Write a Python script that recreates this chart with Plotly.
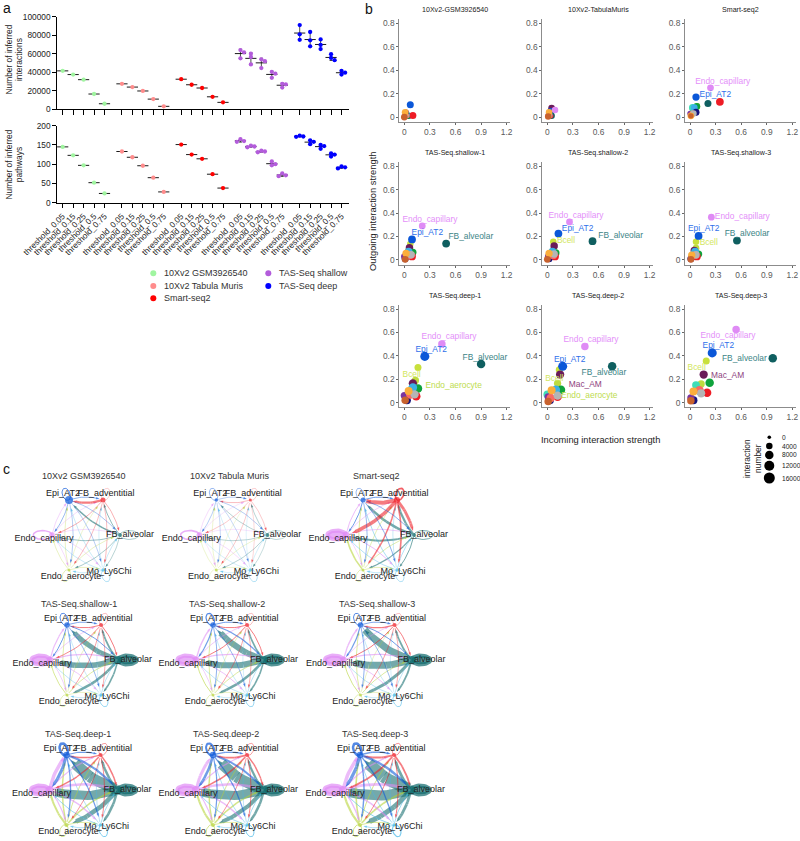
import numpy as np
import plotly.graph_objects as go

W, H = 800, 841
FONT = "Liberation Sans"

# ---------- panel a data ----------
THRESHOLDS = ["threshold_0.05", "threshold_0.15", "threshold_0.25", "threshold_0.5", "threshold_0.75"]
GROUPS = ["10Xv2 GSM3926540", "10Xv2 Tabula Muris", "Smart-seq2", "TAS-Seq shallow", "TAS-Seq deep"]
GROUP_COLORS = ["#A0F5A0", "#FF8C8C", "#FF0000", "#B35CDB", "#0000FF"]

INTER_GSM = [[41500], [37500], [32000], [16500], [6000]]
INTER_TAB = [[27500], [24000], [19800], [11000], [3200]]
INTER_SMART = [[32500], [26500], [23000], [13500], [7500]]
INTER_SHALLOW = [[64000, 61500, 55000], [60000, 56500, 48500], [54000, 52000, 44500], [40500, 38500, 34000], [27500, 27000, 23500]]
INTER_DEEP = [[91000, 81000, 75000], [83500, 74500, 68000], [75500, 69500, 65000], [59500, 55500, 53000], [41500, 39500, 37500]]

PATH_GSM = [[145], [123], [97], [52], [24]]
PATH_TAB = [[133], [118], [96], [65], [28]]
PATH_SMART = [[151], [125], [114], [74], [38]]
PATH_SHALLOW = [[165, 160, 158], [148, 146, 144], [135, 133, 131], [107, 100, 97], [76, 71, 69]]
PATH_DEEP = [[174, 172, 171], [162, 158, 152], [150, 147, 140], [128, 125, 120], [94, 92, 89]]

# ---------- panel b data ----------
CELL_NAMES = ["Endo_aerocyte", "Bcell", "Mac_AM", "Epi_AT2", "Endo_capillary", "FB_alveolar", "Tcell", "FB_adventitial",
              "Endo_lymph", "Mo_Ly6Chi", "NK", "DC", "Mac_IM", "Neutrophil", "Pericyte", "Mesothelial"]
CELL_COLORS = ["#BEDB3E", "#C8E03C", "#6A1B5A", "#0B57D8", "#DF8BF5", "#0F5F60", "#0FA33C", "#EE1C25",
               "#3FDDB8", "#3BB0E6", "#14147E", "#7A35A0", "#FB6A62", "#B5B5B5", "#FBAE3C", "#C8622E"]

GSM_X = [.01, .01, .02, .07, .02, .05, .04, .10, .02, .03, .02, .01, .03, .02, .01, .00]
GSM_Y = [.01, .02, .04, .105, .03, .01, .01, .012, .01, .02, .03, .02, .01, .01, .04, .00]
GSM_N = [1500, 1500, 3000, 5000, 3000, 4000, 3000, 5000, 2000, 3000, 2500, 2000, 2500, 2500, 4500, 4500]
TABMUR_X = [.02, .02, .05, .04, .09, .05, .03, .04, .02, .03, .02, .01, .03, .02, .02, .01]
TABMUR_Y = [.02, .03, .075, .05, .06, .01, .02, .01, .01, .02, .02, .02, .01, .01, .04, .005]
TABMUR_N = [1500, 1500, 4500, 4000, 4000, 4000, 2500, 2500, 2000, 2500, 2000, 2000, 2500, 2500, 4000, 4000]
SMART_X = [.03, .08, .06, .07, .24, .21, .08, .35, .03, .05, .07, .00, .03, .04, .01, .01]
SMART_Y = [.07, .09, .04, .17, .25, .115, .09, .13, .08, .08, .04, .03, .03, .03, .01, .01]
SMART_N = [3500, 4500, 4500, 5500, 4500, 5000, 4500, 6500, 5500, 4500, 5000, 2500, 3500, 4000, 4500, 2500]
SH1_X = [.05, .07, .06, .09, .21, .49, .10, .09, .04, .05, .01, .00, .06, .08, .02, .01]
SH1_Y = [.08, .135, .105, .175, .29, .14, .065, .03, .06, .07, .01, .03, .04, .045, .055, .005]
SH2_X = [.07, .07, .08, .13, .26, .53, .10, .09, .05, .06, .02, .01, .07, .08, .02, .00]
SH2_Y = [.08, .155, .12, .225, .325, .16, .06, .03, .06, .07, .01, .03, .04, .05, .055, .005]
SH3_X = [.07, .07, .05, .10, .25, .55, .10, .08, .05, .06, .01, .02, .06, .07, .02, .01]
SH3_Y = [.10, .155, .08, .205, .365, .165, .05, .03, .055, .07, .01, .03, .04, .045, .04, .005]
SHALLOW_N = [4500, 4000, 6000, 6500, 4500, 6500, 5500, 6500, 5500, 6500, 5000, 4000, 6500, 6000, 5500, 4500]
DP1_X = [.13, .16, .10, .24, .44, .90, .16, .14, .09, .10, .03, .00, .07, .12, .05, .01]
DP1_Y = [.19, .30, .165, .395, .50, .33, .12, .055, .12, .13, .02, .06, .07, .07, .10, .02]
DP2_X = [.12, .14, .15, .18, .44, .76, .16, .12, .00, .10, .03, .01, .04, .12, .05, .01]
DP2_Y = [.165, .28, .24, .31, .48, .31, .11, .05, .07, .11, .02, .05, .04, .06, .105, .01]
DP3_X = [.13, .19, .16, .26, .54, .97, .23, .20, .07, .11, .04, .01, .11, .13, .04, .01]
DP3_Y = [.16, .355, .24, .425, .625, .38, .17, .085, .15, .10, .02, .04, .105, .08, .095, .015]
DEEP_N = [5500, 5000, 7500, 9500, 6000, 8000, 8000, 8000, 6500, 8000, 7000, 5500, 8000, 7500, 7000, 6000]

SIZE_BREAKS = [0, 4000, 8000, 12000, 16000]
SIZE_DIAMS = [3.6, 6.5, 8.5, 10, 11]

SM_LABELS = [("Endo_capillary", .383, .30), ("Epi_AT2", .297, .19)]
SH1_LABELS = [("Endo_capillary", .30, .342), ("Epi_AT2", .27, .228), ("FB_alveolar", .78, .20)]
SH2_LABELS = [("Endo_capillary", .336, .379), ("Epi_AT2", .355, .268), ("FB_alveolar", .86, .208), ("Bcell", .219, .165)]
SH3_LABELS = [("Endo_capillary", .613, .37), ("Epi_AT2", .16, .262), ("FB_alveolar", .668, .222), ("Bcell", .219, .148)]
DP1_LABELS = [("Endo_capillary", .524, .558), ("Epi_AT2", .316, .453), ("FB_alveolar", .945, .385), ("Bcell", .086, .239), ("Endo_aerocyte", .578, .14)]
DP2_LABELS = [("Endo_capillary", .512, .536), ("Epi_AT2", .262, .368), ("FB_alveolar", .664, .256), ("Bcell", .082, .205), ("Mac_AM", .445, .154), ("Endo_aerocyte", .492, .054)]
DP3_LABELS = [("Endo_capillary", .445, .57), ("Epi_AT2", .332, .481), ("FB_alveolar", .637, .373), ("Bcell", .078, .296), ("Mac_AM", .441, .225)]
LABEL_COLORS = {"Endo_capillary": "#E48FF9", "Epi_AT2": "#2F70EA", "FB_alveolar": "#3C8486", "Bcell": "#D2E65E", "Endo_aerocyte": "#BEDC50", "Mac_AM": "#8E3F7E"}

SCATTER_PANELS = [
    ("10Xv2-GSM3926540", GSM_X, GSM_Y, GSM_N, []),
    ("10Xv2-TabulaMuris", TABMUR_X, TABMUR_Y, TABMUR_N, []),
    ("Smart-seq2", SMART_X, SMART_Y, SMART_N, SM_LABELS),
    ("TAS-Seq.shallow-1", SH1_X, SH1_Y, SHALLOW_N, SH1_LABELS),
    ("TAS-Seq.shallow-2", SH2_X, SH2_Y, SHALLOW_N, SH2_LABELS),
    ("TAS-Seq.shallow-3", SH3_X, SH3_Y, SHALLOW_N, SH3_LABELS),
    ("TAS-Seq.deep-1", DP1_X, DP1_Y, DEEP_N, DP1_LABELS),
    ("TAS-Seq.deep-2", DP2_X, DP2_Y, DEEP_N, DP2_LABELS),
    ("TAS-Seq.deep-3", DP3_X, DP3_Y, DEEP_N, DP3_LABELS),
]

# ---------- panel c data ----------
NET_NODES = ["Epi_AT2", "FB_adventitial", "FB_alveolar", "Mo_Ly6Chi", "Endo_aerocyte", "Endo_capillary"]
NET_COLORS = ["#0B57D8", "#EE1C25", "#0F6A6C", "#45B8E8", "#B5D334", "#DF8BF5"]
NET_TITLES = ["10Xv2 GSM3926540", "10Xv2 Tabula Muris", "Smart-seq2",
              "TAS-Seq.shallow-1", "TAS-Seq.shallow-2", "TAS-Seq.shallow-3",
              "TAS-Seq.deep-1", "TAS-Seq.deep-2", "TAS-Seq.deep-3"]
W_GSM = [[1.0, .8, .6, .5, .5, .7], [2.2, .3, .6, .5, .5, .6], [1.4, .8, .5, .5, .6, .7], [.5, .4, .5, .6, .5, .5], [.5, .4, .5, .5, .5, .5], [.6, .5, .5, .5, .5, 1.5]]
W_TAB = [[.6, .5, .5, .4, .4, .5], [.5, .3, .4, .3, .4, .4], [.5, .5, .4, .4, .5, .5], [.4, .3, .4, .6, .4, .4], [.4, .3, .4, .4, .3, .4], [.5, .4, .4, .5, .4, 1.6]]
W_SMART = [[.6, 1.0, .8, .8, .7, 1.0], [4.0, 1.6, 2.8, 1.6, 1.5, 3.5], [2.5, 2.2, .8, 1.0, 1.2, 2.0], [.8, .5, .7, .6, .6, .7], [.8, .6, .7, .6, .5, 1.6], [1.0, .7, .8, 1.0, .6, 5.0]]
W_SH1 = [[1.0, .9, 1.0, .7, .8, 1.0], [1.0, .4, 1.0, .6, .7, .9], [5.0, 1.8, 7.0, 1.6, 2.5, 5.5], [.5, .4, .6, .8, .5, .6], [.7, .5, .8, .5, .5, .9], [1.2, .7, 1.2, .8, .7, 7.0]]
W_SH2 = [[1.2, 1.0, 1.2, .7, .8, 1.2], [1.0, .4, 1.0, .6, .7, 1.0], [6.0, 1.6, 7.0, 1.6, 2.5, 6.0], [.5, .4, .6, .8, .5, .6], [.8, .5, .8, .5, .5, 1.0], [1.4, .8, 1.3, .9, .7, 7.5]]
W_SH3 = [[1.0, .9, 1.0, .7, .8, 1.2], [1.2, .4, 1.0, .6, .7, 1.0], [7.0, 1.8, 7.5, 1.8, 3.0, 7.0], [.5, .4, .6, .8, .5, .6], [.8, .5, .8, .5, .5, 1.0], [1.4, .7, 1.3, .9, .7, 8.0]]
W_DP1 = [[2.5, 1.2, 2.2, 1.2, 1.3, 3.0], [1.4, .6, 1.5, .9, .8, 1.4], [11, 2.5, 10, 2.5, 4.5, 9.0], [.7, .6, .8, 1.0, .7, .9], [1.4, .9, 1.5, .8, .8, 2.0], [3.5, 1.2, 2.5, 1.4, 1.2, 9.0]]
W_DP2 = [[2.0, 1.3, 2.0, 1.2, 1.2, 2.6], [1.8, .6, 1.4, .9, .8, 1.6], [11, 2.2, 9.0, 2.5, 4.0, 9.0], [.7, .6, .8, 1.0, .7, .9], [1.4, .9, 1.5, .8, .8, 2.0], [3.0, 1.2, 2.5, 1.4, 1.2, 9.0]]
W_DP3 = [[2.5, 1.5, 2.4, 1.3, 1.4, 3.2], [2.0, .7, 1.8, 1.0, .9, 1.8], [12, 2.8, 10, 2.8, 5.0, 10], [.8, .7, .9, 1.2, .8, 1.0], [1.6, 1.0, 1.7, .9, .9, 2.2], [3.5, 1.4, 2.8, 1.6, 1.4, 9.5]]
NET_WEIGHTS = [W_GSM, W_TAB, W_SMART, W_SH1, W_SH2, W_SH3, W_DP1, W_DP2, W_DP3]
NODE_GSM = [8, 5, 4, 3.5, 3, 5.5]
NODE_TAB = [3.5, 3, 4, 3.5, 3, 5.5]
NODE_SMART = [5, 6, 4, 3.5, 3, 6.5]
NODE_SH = [5.5, 4, 8, 3.5, 3, 6.5]
NODE_DP = [6.5, 4, 9, 3.5, 4, 8]
NET_NODE_SIZES = [NODE_GSM, NODE_TAB, NODE_SMART, NODE_SH, NODE_SH, NODE_SH, NODE_DP, NODE_DP, NODE_DP]
SOURCE_ORDER = [2, 4, 3, 5, 1, 0]

# ---------- layout constants (pixels) ----------
def dx(a, b):
    return [max(0, a / W), min(1, b / W)]

def dy(top, bottom):
    return [max(0, 1 - bottom / H), min(1, 1 - top / H)]

fig = go.Figure()
layout = {}
annotations = []

def note(text, px, py, size, color="#222222", angle=0, xanchor="center"):
    annotations.append(dict(text=text, x=px / W, y=1 - py / H, xref="paper", yref="paper", showarrow=False,
                            font=dict(family=FONT, size=size, color=color), textangle=angle,
                            xanchor=xanchor, yanchor="middle"))

# ---------- panel a ----------
STEP = 10.45
X0_PX = 62.7
GROUP_GAP = 5.67
XR = [(56.7 - X0_PX) / STEP, (349 - X0_PX) / STEP]
tick_pos = [g * GROUP_GAP + i for g in range(5) for i in range(5)]
tick_txt = THRESHOLDS * 5

def swarm(vals, px_per_unit):
    offs, placed = [], []
    for v in vals:
        o = 0.0
        for c in (0, .34, -.34, .6, -.6):
            if all(abs(c - po) * STEP > 3 or abs(v - pv) * px_per_unit > 3 for po, pv in placed):
                o = c
                break
        placed.append((o, v))
        offs.append(o)
    return offs

def panel_a(data, xa, ya, ppu):
    for g, series in enumerate(data):
        xs, ys, mx, my, sd = [], [], [], [], []
        for i, vals in enumerate(series):
            base = g * GROUP_GAP + i
            offs = swarm(vals, ppu)
            xs += [base + o for o in offs]
            ys += vals
            mx.append(base)
            my.append(float(np.mean(vals)))
            sd.append(float(np.std(vals, ddof=1)) if len(vals) > 1 else 0)
        fig.add_trace(go.Scatter(x=mx, y=my, mode="markers", xaxis=xa, yaxis=ya, showlegend=False,
                                 marker=dict(symbol="line-ew", size=8, color="black", line=dict(width=0.9, color="black")),
                                 error_y=dict(type="data", array=sd, visible=True, color="black", thickness=0.7,
                                              width=1.5 if g >= 3 else 0)))
        fig.add_trace(go.Scatter(x=xs, y=ys, mode="markers", xaxis=xa, yaxis=ya, showlegend=False,
                                 marker=dict(color=GROUP_COLORS[g], size=4.3, line=dict(width=0))))

panel_a([INTER_GSM, INTER_TAB, INTER_SMART, INTER_SHALLOW, INTER_DEEP], "x", "y", 92.6 / 100000)
panel_a([PATH_GSM, PATH_TAB, PATH_SMART, PATH_SHALLOW, PATH_DEEP], "x2", "y2", 77 / 200)

tickf = dict(family=FONT, size=8.3, color="#222222")
axa = dict(range=XR, showgrid=False, zeroline=False, showline=True, linecolor="black", linewidth=1, automargin=False,
           ticks="outside", ticklen=4.5, tickwidth=1, tickcolor="black", tickvals=tick_pos, fixedrange=True)
layout["xaxis"] = dict(axa, domain=dx(56.7, 349), anchor="y", ticktext=[""] * 25)
layout["yaxis"] = dict(domain=dy(16.7, 109.3), anchor="x", range=[0, 100000], tickvals=[0, 20000, 40000, 60000, 80000, 100000],
                       tickformat="d", showgrid=False, zeroline=False, showline=True, linecolor="black", linewidth=1, automargin=False,
                       ticks="outside", ticklen=3.5, tickwidth=1, tickcolor="black", tickfont=tickf, fixedrange=True)
layout["xaxis2"] = dict(axa, domain=dx(56.7, 349), anchor="y2", ticktext=tick_txt, tickangle=-45, tickfont=tickf)
layout["yaxis2"] = dict(domain=dy(125.7, 202.7), anchor="x2", range=[0, 200], tickvals=[0, 50, 100, 150, 200], automargin=False,
                        showgrid=False, zeroline=False, showline=True, linecolor="black", linewidth=1,
                        ticks="outside", ticklen=3.5, tickwidth=1, tickcolor="black", tickfont=tickf, fixedrange=True)
note("Number of inferred<br>interactions", 13.5, 60, 8.4, angle=-90)
note("Number of inferred<br>pathways", 13.5, 165, 8.4, angle=-90)

# key overlay axes (legends)
layout["xaxis3"] = dict(domain=[0, 1], range=[0, W], visible=False, fixedrange=True, anchor="y3", automargin=False)
layout["yaxis3"] = dict(domain=[0, 1], range=[H, 0], visible=False, fixedrange=True, anchor="x3", automargin=False)
KEY_POS = [(153.3, 273.3), (153.3, 286), (153.3, 298.3), (268.3, 273.3), (268.3, 286)]
for name, col, (kx, ky) in zip(GROUPS, GROUP_COLORS, KEY_POS):
    fig.add_trace(go.Scatter(x=[kx], y=[ky], mode="markers", xaxis="x3", yaxis="y3", showlegend=False,
                             marker=dict(color=col, size=6, line=dict(width=0))))
    note(name, kx + 9, ky, 9, color="#333333", xanchor="left")

# ---------- panel b ----------
COLS_B = [399.3, 542.3, 685]
ROWS_B = [121.7, 264.6, 407.3]
B_TICKF = dict(family=FONT, size=8.4, color="#5A5A5A")
for k, (title, xs, ys, ns, labels) in enumerate(SCATTER_PANELS):
    r, c = divmod(k, 3)
    ax = k + 4
    left, bottom = COLS_B[c], ROWS_B[r]
    layout[f"xaxis{ax}"] = dict(domain=dx(left, left + 110.7), anchor=f"y{ax}", range=[-0.059, 1.239], automargin=False,
                                tickvals=[0, .3, .6, .9, 1.2], ticktext=["0", "0.3", "0.6", "0.9", "1.2"],
                                showgrid=False, zeroline=False, showline=True, linecolor="#8C8C8C", linewidth=1,
                                ticks="outside", ticklen=2, tickwidth=.8, tickcolor="#666666", tickfont=B_TICKF, fixedrange=True)
    layout[f"yaxis{ax}"] = dict(domain=dy(bottom - 102.4, bottom), anchor=f"x{ax}", range=[-0.04, 0.835], automargin=False,
                                tickvals=[0, .2, .4, .6, .8], ticktext=["0", "0.2", "0.4", "0.6", "0.8"],
                                showgrid=False, zeroline=False, showline=True, linecolor="#8C8C8C", linewidth=1,
                                ticks="outside", ticklen=2, tickwidth=.8, tickcolor="#666666", tickfont=B_TICKF, fixedrange=True)
    sizes = np.interp(ns, SIZE_BREAKS, SIZE_DIAMS)
    fig.add_trace(go.Scatter(x=xs, y=ys, mode="markers", xaxis=f"x{ax}", yaxis=f"y{ax}", showlegend=False, text=CELL_NAMES,
                             cliponaxis=False, marker=dict(color=CELL_COLORS, size=sizes, opacity=1, line=dict(width=0))))
    for name, lx, ly in labels:
        fig.add_trace(go.Scatter(x=[lx], y=[ly], mode="text", text=[name], xaxis=f"x{ax}", yaxis=f"y{ax}", showlegend=False,
                                 textposition="middle center", cliponaxis=False,
                                 textfont=dict(family=FONT, size=8.4, color=LABEL_COLORS[name])))
    note(title, left + 55.7, bottom - 111.2, 7.1, color="#222222")

note("Outgoing interaction strength", 373, 212, 9.3, color="#222222", angle=-90)
note("Incoming interaction strength", 600, 440, 9.3, color="#222222")

SIZE_KEY_Y = [437.3, 446, 455, 465.7, 478]
SIZE_KEY_D = [3.6, 6.5, 8.5, 10, 11]
for val, ky, d in zip(SIZE_BREAKS, SIZE_KEY_Y, SIZE_KEY_D):
    fig.add_trace(go.Scatter(x=[769.3], y=[ky], mode="markers", xaxis="x3", yaxis="y3", showlegend=False,
                             marker=dict(color="black", size=d, line=dict(width=0))))
    note(str(val), 780.3, ky, 6.6, xanchor="left")
note("interaction<br>number", 752, 459, 8.4, angle=-90)

# ---------- panel c ----------
RX, RY = 34.0, 40.5
ANGLES = np.radians([120, 60, 0, -60, -120, 180])
UX, UY = np.cos(ANGLES), np.sin(ANGLES)
LABEL_OFF = [(-6, -6), (3, -6), (10, 0), (6, 2), (2, 7), (-8, 3.5)]  # pixel offsets of names from nodes
NET_CX = [[86, 233.3, 380], [84, 230, 377.5], [83.5, 230, 377]]
NET_CY = [535, 660, 790]
NET_TITLE_X = [[84, 230, 376], [78.5, 227, 376.7], [78, 226, 375]]
NET_TITLE_Y = [476, 604, 734]
HW, HH = 66, 50

def rgba(hexc, a):
    return f"rgba({int(hexc[1:3],16)},{int(hexc[3:5],16)},{int(hexc[5:7],16)},{a})"

for k, (weights, nsz) in enumerate(zip(NET_WEIGHTS, NET_NODE_SIZES)):
    r, c = divmod(k, 3)
    ax = k + 13
    cx, cy = NET_CX[r][c], NET_CY[r]
    layout[f"xaxis{ax}"] = dict(domain=dx(cx - HW, cx + HW), range=[-HW / RX, HW / RX], visible=False, fixedrange=True, anchor=f"y{ax}", automargin=False)
    layout[f"yaxis{ax}"] = dict(domain=dy(cy - HH, cy + HH), range=[-HH / RY, HH / RY], visible=False, fixedrange=True, anchor=f"x{ax}", automargin=False)
    for i in SOURCE_ORDER:
        for j in range(6):
            w = weights[i][j]
            col = NET_COLORS[i]
            if i == j:
                out = np.array([UX[i], UY[i]])
                perp = np.array([-out[1], out[0]])
                th = np.linspace(0, 2 * np.pi, 33)
                a = .55 if i in (2, 5) else .32
                b = .22
                px = UX[i] + out[0] * a * (1 - np.cos(th)) / 2 + perp[0] * b * np.sin(th) / 2
                py = UY[i] + out[1] * a * (1 - np.cos(th)) / 2 + perp[1] * b * np.sin(th) / 2
                fig.add_trace(go.Scatter(x=px, y=py, mode="lines", xaxis=f"x{ax}", yaxis=f"y{ax}", showlegend=False, cliponaxis=False,
                                         line=dict(color=rgba(col, .7), width=min(w, 4)),
                                         fill="toself" if w >= 4 else None,
                                         fillcolor=rgba(col, .7) if w >= 4 else None))
                continue
            A = np.array([UX[i], UY[i]])
            B = np.array([UX[j], UY[j]])
            d = B - A
            ctrl = (A + B) / 2 + 0.14 * np.array([-d[1], d[0]])
            t = np.linspace(0.04, 0.9, 14)
            px = (1 - t) ** 2 * A[0] + 2 * (1 - t) * t * ctrl[0] + t ** 2 * B[0]
            py = (1 - t) ** 2 * A[1] + 2 * (1 - t) * t * ctrl[1] + t ** 2 * B[1]
            msize = [0] * 13 + [min(3.5 + w * .25, 6)]
            fig.add_trace(go.Scatter(x=px, y=py, mode="lines+markers", xaxis=f"x{ax}", yaxis=f"y{ax}", showlegend=False, cliponaxis=False,
                                     line=dict(color=rgba(col, .58), width=w),
                                     marker=dict(symbol="arrow", angleref="previous", size=msize, color=col, line=dict(width=0))))
    fig.add_trace(go.Scatter(x=UX, y=UY, mode="markers", xaxis=f"x{ax}", yaxis=f"y{ax}", showlegend=False, cliponaxis=False,
                             marker=dict(color=NET_COLORS, size=nsz, line=dict(width=0))))
    tx = [UX[i] + LABEL_OFF[i][0] / RX for i in range(6)]
    ty = [UY[i] - LABEL_OFF[i][1] / RY for i in range(6)]
    fig.add_trace(go.Scatter(x=tx, y=ty, mode="text", text=NET_NODES, xaxis=f"x{ax}", yaxis=f"y{ax}", showlegend=False, cliponaxis=False,
                             textposition="middle center", textfont=dict(family=FONT, size=9, color="#222222")))
    note(NET_TITLES[k], NET_TITLE_X[r][c], NET_TITLE_Y[r], 9, color="#333333")

note("a", 1, 8, 14, color="#111111", xanchor="left")
note("b", 363, 9, 14, color="#111111", xanchor="left")
note("c", 1, 469, 14, color="#111111", xanchor="left")

fig.update_layout(width=W, height=H, margin=dict(l=0, r=0, t=0, b=0), paper_bgcolor="white", plot_bgcolor="rgba(0,0,0,0)",
                  showlegend=False, annotations=annotations, hovermode=False, **layout)
fig.write_html("out.html", config={"displayModeBar": False}, post_script="document.body.style.margin='0';")
